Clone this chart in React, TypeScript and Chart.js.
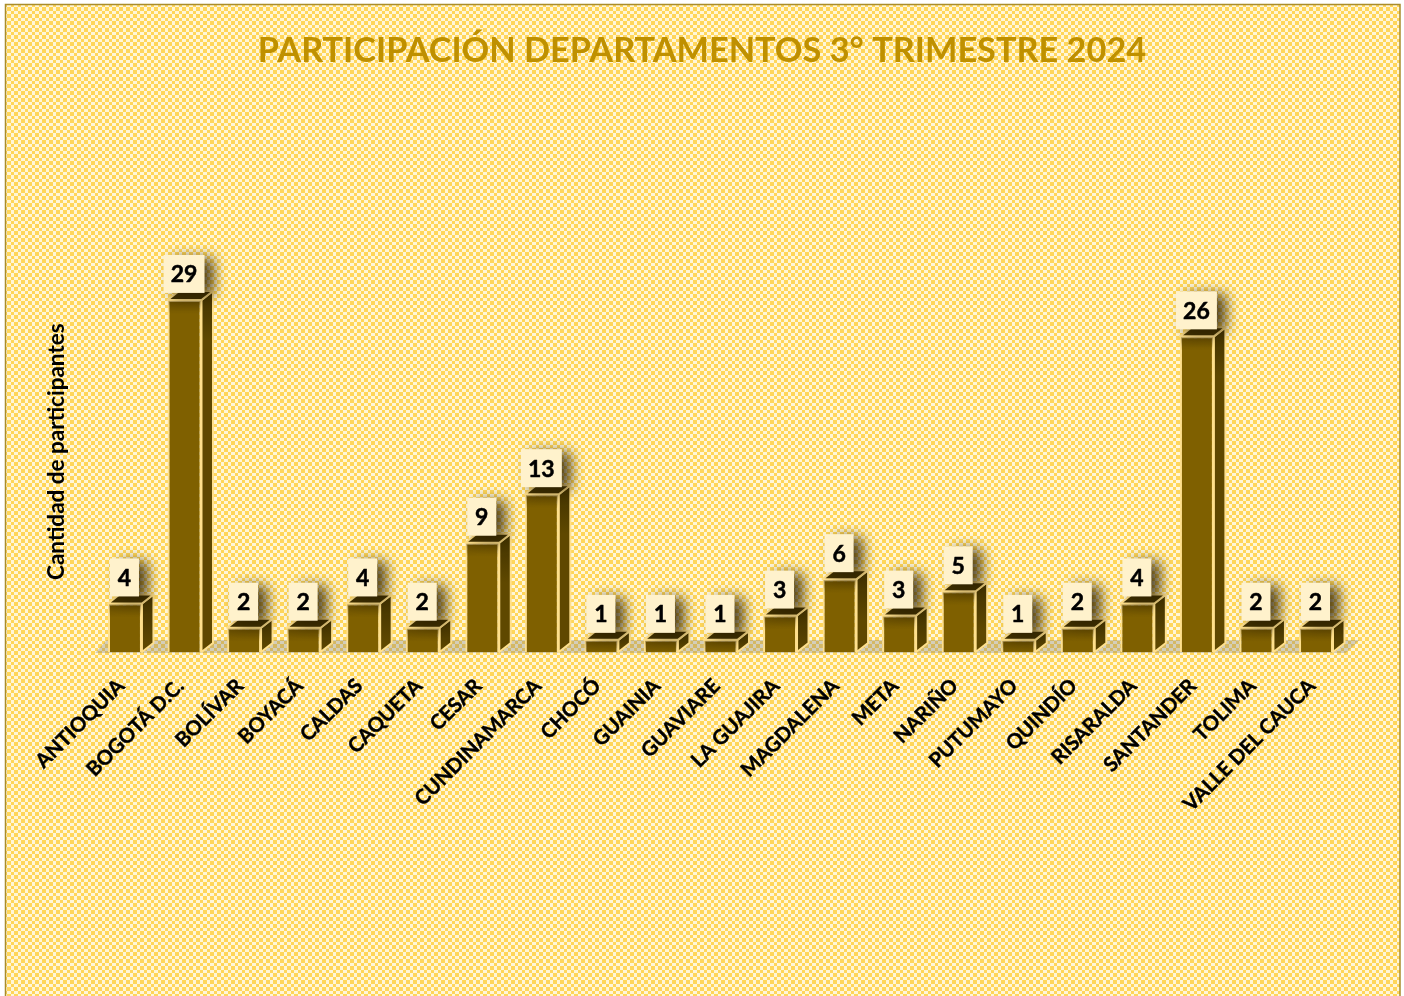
import React, { useEffect, useRef } from "react";
import { Chart, registerables } from "chart.js";

Chart.register(...registerables);

const categories = ["ANTIOQUIA", "BOGOTÁ D.C.", "BOLÍVAR", "BOYACÁ", "CALDAS", "CAQUETA", "CESAR", "CUNDINAMARCA", "CHOCÓ", "GUAINIA", "GUAVIARE", "LA GUAJIRA", "MAGDALENA", "META", "NARIÑO", "PUTUMAYO", "QUINDÍO", "RISARALDA", "SANTANDER", "TOLIMA", "VALLE DEL CAUCA"];
const participants = [4, 29, 2, 2, 4, 2, 9, 13, 1, 1, 1, 3, 6, 3, 5, 1, 2, 4, 26, 2, 2];
const chartTitle = "PARTICIPACIÓN DEPARTAMENTOS 3° TRIMESTRE 2024";
const yTitle = "Cantidad de participantes";

const FONT = "Lato, 'Noto Sans', sans-serif";
const DX = 11.5;
const DY = 9;
const EDGE = "#FFE08C";

function makePattern(ctx: CanvasRenderingContext2D) {
  const c = document.createElement("canvas");
  c.width = 7;
  c.height = 7;
  const p = c.getContext("2d")!;
  p.fillStyle = "#FFF6D8";
  p.fillRect(0, 0, 7, 7);
  p.fillStyle = "#FFD65A";
  p.fillRect(0, 0, 4, 4);
  p.fillRect(4, 4, 3, 3);
  return ctx.createPattern(c, "repeat")!;
}

const poly = (ctx: CanvasRenderingContext2D, pts: number[][]) => {
  ctx.beginPath();
  pts.forEach(([x, y], i) => (i ? ctx.lineTo(x, y) : ctx.moveTo(x, y)));
  ctx.closePath();
};

const backgroundPlugin = {
  id: "paper",
  beforeDraw(chart: any) {
    const { ctx, width, height } = chart;
    ctx.save();
    ctx.fillStyle = "#FFFFFF";
    ctx.fillRect(0, 0, width, height);
    ctx.fillStyle = makePattern(ctx);
    ctx.fillRect(6, 5, 1394, height);
    ctx.strokeStyle = "#A98C2B";
    ctx.lineWidth = 1.5;
    ctx.strokeRect(5.5, 4.5, 1394.5, height + 10);
    ctx.restore();
    // nudge the rotated tick labels along the axis
    const sx = chart.scales.x;
    sx._labelItems = null;
    sx.getLabelItems(chart.chartArea).forEach((item: any) => {
      item.options.translation = [item.options.translation[0] - 4, item.options.translation[1]];
    });
  },
};

const depthPlugin = {
  id: "depth",
  beforeDatasetsDraw(chart: any) {
    const { ctx, chartArea } = chart;
    const b = chartArea.bottom;
    ctx.save();
    // floor
    ctx.fillStyle = "rgba(120,120,120,0.32)";
    poly(ctx, [[chartArea.left, b + 1], [chartArea.left + DX, b - DY - 3], [chartArea.right + DX + 2, b - DY - 3], [chartArea.right, b + 1]]);
    ctx.fill();
    ctx.restore();
  },
  afterDatasetsDraw(chart: any) {
    const { ctx } = chart;
    const bars = chart.getDatasetMeta(0).data;
    ctx.save();
    bars.forEach((bar: any) => {
      const l = bar.x - bar.width / 2;
      const r = bar.x + bar.width / 2;
      const t = bar.y;
      const bs = bar.base;
      ctx.lineJoin = "round";
      ctx.lineWidth = 2;
      ctx.strokeStyle = EDGE;
      const side = ctx.createLinearGradient(r, t - DY, r, Math.min(t + 40, bs));
      side.addColorStop(0, "#3F3000");
      side.addColorStop(1, "#5F4800");
      ctx.fillStyle = side;
      poly(ctx, [[r, t], [r + DX, t - DY], [r + DX, bs - DY], [r, bs]]);
      ctx.fill();
      ctx.stroke();
      ctx.fillStyle = "#3D2E00";
      poly(ctx, [[l, t], [l + DX, t - DY], [r + DX, t - DY], [r, t]]);
      ctx.fill();
      ctx.stroke();
      // shade thrown onto the front face
      const shade = ctx.createLinearGradient(0, t, 0, t + 14);
      shade.addColorStop(0, "rgba(50,35,0,0.4)");
      shade.addColorStop(1, "rgba(50,35,0,0)");
      ctx.fillStyle = shade;
      ctx.fillRect(l + 1, t + 1, r - l - 2, Math.min(14, bs - t - 2));
    });
    // value labels
    const values = chart.data.datasets[0].data;
    bars.forEach((bar: any, i: number) => {
      const text = String(values[i]);
      const w = text.length > 1 ? 41 : 29;
      const h = 38;
      const x = bar.x - 0.5 - w / 2;
      const y = bar.y - 7 - h;
      ctx.save();
      ctx.shadowColor = "rgba(40,28,0,0.8)";
      ctx.shadowBlur = 14;
      ctx.shadowOffsetX = 9;
      ctx.shadowOffsetY = 3;
      ctx.fillStyle = "#FFF2CC";
      ctx.fillRect(x, y, w, h);
      ctx.restore();
      ctx.fillStyle = "#000000";
      ctx.strokeStyle = "#000000";
      ctx.lineWidth = 0.5;
      ctx.font = `bold 23px ${FONT}`;
      ctx.textAlign = "center";
      ctx.textBaseline = "middle";
      ctx.fillText(text, bar.x - 0.5, y + h / 2 + 1);
      ctx.strokeText(text, bar.x - 0.5, y + h / 2 + 1);
    });
    ctx.restore();
  },
};

export default function App() {
  const ref = useRef<HTMLCanvasElement>(null);
  useEffect(() => {
    const chart = new Chart(ref.current!, {
      type: "bar",
      data: {
        labels: categories,
        datasets: [
          {
            label: yTitle,
            data: participants,
            backgroundColor: "#7F6000",
            borderColor: EDGE,
            borderWidth: 2,
            barPercentage: 0.57,
            categoryPercentage: 1,
            yAxisID: "y",
          },
        ],
      },
      options: {
        responsive: false,
        animation: false,
        layout: { padding: 0 },
        plugins: {
          legend: { display: false },
          tooltip: { enabled: false },
          title: {
            display: true,
            text: chartTitle,
            color: "#BF9000",
            font: { family: FONT, size: 34.3, weight: "bold", lineHeight: 1.2 },
            padding: { top: 30, bottom: 180.2 },
          },
        },
        scales: {
          x: {
            grid: { display: false },
            border: { display: false },
            ticks: {
              autoSkip: false,
              maxRotation: 45,
              minRotation: 45,
              color: "#000000",
              padding: 14,
              textStrokeColor: "#000000",
              textStrokeWidth: 0.4,
              font: { family: FONT, size: 20.3, weight: "bold" },
            },
            afterFit(scale: any) {
              scale.height = 344;
            },
          },
          y: {
            min: 0,
            max: 33,
            grid: { display: false },
            border: { display: false },
            ticks: { display: false },
            title: {
              display: true,
              text: yTitle,
              color: "#000000",
              font: { family: FONT, size: 22.5, weight: "bold", lineHeight: 1.2 },
              padding: { top: 43.5, bottom: 0 },
            },
            afterFit(scale: any) {
              scale.width = 95.2;
            },
          },
          rightGutter: {
            position: "right",
            min: 0,
            max: 33,
            grid: { display: false },
            border: { display: false },
            ticks: { display: false },
            afterFit(scale: any) {
              scale.width = 58.2;
            },
          },
        },
      },
      plugins: [backgroundPlugin, depthPlugin],
    } as any);
    return () => chart.destroy();
  }, []);
  return (
    <div style={{ position: "absolute", left: 0, top: 0, width: 1404, height: 996, overflow: "hidden" }}>
      <canvas ref={ref} width={1404} height={996} style={{ display: "block" }} />
    </div>
  );
}
